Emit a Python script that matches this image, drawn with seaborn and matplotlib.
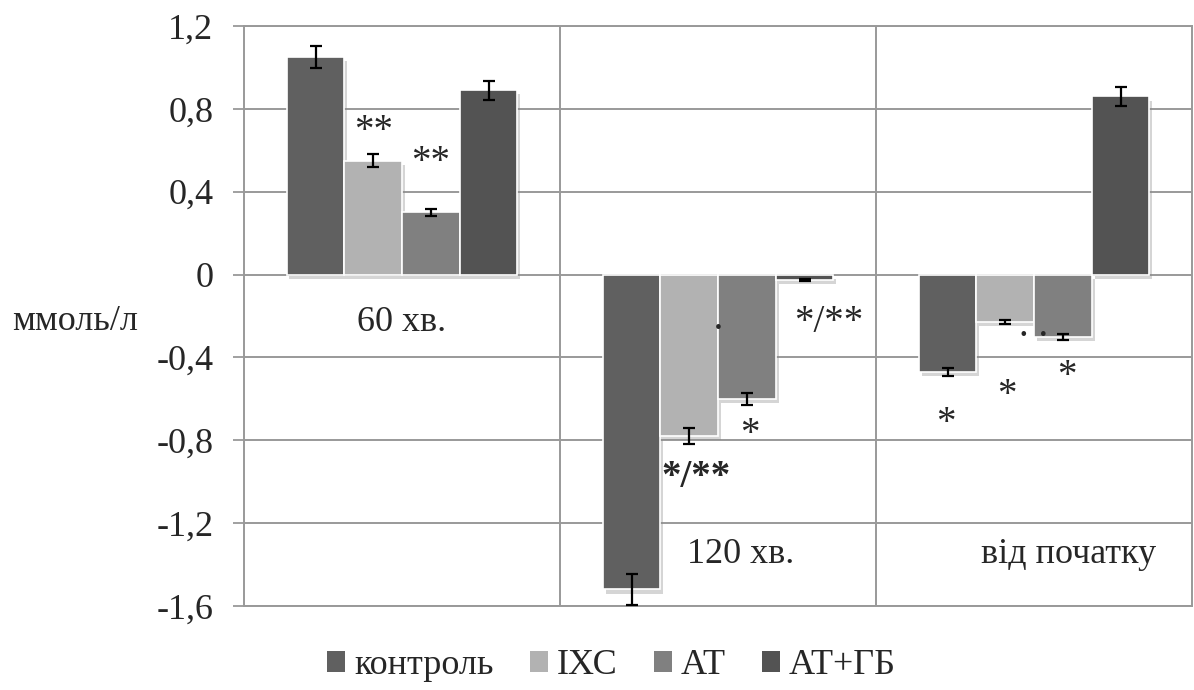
import pandas as pd
import numpy as np
import matplotlib.pyplot as plt
import seaborn as sns
from matplotlib.ticker import FuncFormatter
from matplotlib.patches import Patch
from matplotlib import patheffects as pe

# -----------------------------
# DATA
# -----------------------------
periods = ['60 хв.', '120 хв.', 'від початку']
groups = ['контроль', 'ІХС', 'АТ', 'АТ+ГБ']

control_vals = [1.05, -1.52, -0.47]
ihs_vals = [0.55, -0.78, -0.23]
at_vals = [0.30, -0.60, -0.30]
atgb_vals = [0.89, -0.025, 0.86]

control_err = [0.055, 0.075, 0.02]
ihs_err = [0.03, 0.04, 0.01]
at_err = [0.015, 0.03, 0.015]
atgb_err = [0.045, 0.006, 0.045]

colors = ['#606060', '#b2b2b2', '#808080', '#535353']
yticks = [-1.6, -1.2, -0.8, -0.4, 0, 0.4, 0.8, 1.2]

# significance marks: (text, x, y, weight)
marks = [
    ('**', -0.09, 0.69, 'normal'),
    ('**', 0.09, 0.54, 'normal'),
    ('·', 1.0, -0.27, 'normal'),
    ('*/**', 1.35, -0.23, 'normal'),
    ('*', 1.10, -0.77, 'normal'),
    ('*/**', 0.93, -0.98, 'bold'),
    ('*', 1.72, -0.72, 'normal'),
    ('*', 1.915, -0.585, 'normal'),
    ('*', 2.105, -0.49, 'normal'),
    ('. .', 2.0, -0.25, 'normal'),
]

FS = 26
MARK_FS = 28

# -----------------------------
# TABLE
# -----------------------------
rows = []
for g, vals, errs in zip(groups, [control_vals, ihs_vals, at_vals, atgb_vals],
                         [control_err, ihs_err, at_err, atgb_err]):
    for p, v, e in zip(periods, vals, errs):
        rows.append({'period': p, 'group': g, 'value': v, 'err': e})
df = pd.DataFrame(rows)

# -----------------------------
# PLOT
# -----------------------------
sns.set_theme(style='white')
plt.rcParams['font.family'] = ['Liberation Serif', 'DejaVu Serif']

fig = plt.figure(figsize=(11.94, 6.90), dpi=100)
ax = fig.add_axes([0.2044, 0.1217, 0.794, 0.8406])

sns.barplot(data=df, x='period', y='value', hue='group', order=periods,
            hue_order=groups, palette=colors, errorbar=None, width=0.73,
            gap=0, edgecolor='white', linewidth=1.2, saturation=1,
            legend=False, ax=ax, zorder=3)

shadow = [pe.SimplePatchShadow(offset=(2, -3), shadow_rgbFace='#888888', alpha=0.35),
          pe.Normal()]
for bar in ax.patches:
    bar.set_path_effects(shadow)

# error bars on bar centres, in hue order
for i, g in enumerate(groups):
    sub = df[df['group'] == g].set_index('period').loc[periods]
    bars = ax.patches[i * len(periods):(i + 1) * len(periods)]
    xs = [b.get_x() + b.get_width() / 2 for b in bars]
    ax.errorbar(xs, sub['value'], yerr=sub['err'], fmt='none', ecolor='black',
                elinewidth=1.6, capsize=4.5, capthick=1.6, zorder=5)

ax.set_ylim(-1.6, 1.2)
ax.set_xlim(-0.5, 2.5)
ax.set_yticks(yticks)
ax.yaxis.set_major_formatter(FuncFormatter(
    lambda v, pos: '0' if abs(v) < 1e-9 else f'{v:.1f}'.replace('.', ',')))
ax.tick_params(axis='y', labelsize=FS, length=8, width=1.3, color='#999999',
               pad=14, left=True)
ax.set_xticks([])
ax.set_xlabel('')

ax.grid(axis='y', color='#999999', linewidth=1.4, zorder=0)
for xv in [0.5, 1.5]:
    ax.axvline(xv, color='#999999', linewidth=1.4, zorder=0)
for s in ax.spines.values():
    s.set_color('#999999')
    s.set_linewidth(1.4)

ax.set_ylabel('ммоль/л', rotation=0, fontsize=FS, ha='center', va='center')
ax.yaxis.set_label_coords(-0.178, 0.49)

# category labels inside the plot
ax.text(0.0, -0.23, periods[0], fontsize=FS, ha='center', va='center')
ax.text(1.07, -1.35, periods[1], fontsize=FS, ha='center', va='center')
ax.text(2.11, -1.35, periods[2], fontsize=FS, ha='center', va='center')

for txt, x, y, w in marks:
    ax.text(x, y, txt, fontsize=MARK_FS, fontweight=w, ha='center', va='center', zorder=6)

handles = [Patch(facecolor=c, edgecolor='none') for c in colors]
fig.legend(handles, groups, loc='center', bbox_to_anchor=(0.512, 0.035),
           ncol=4, frameon=False, fontsize=FS, handlelength=0.5,
           handleheight=0.5, handletextpad=0.25, columnspacing=1.0)

fig.savefig('out.png', dpi=100)
